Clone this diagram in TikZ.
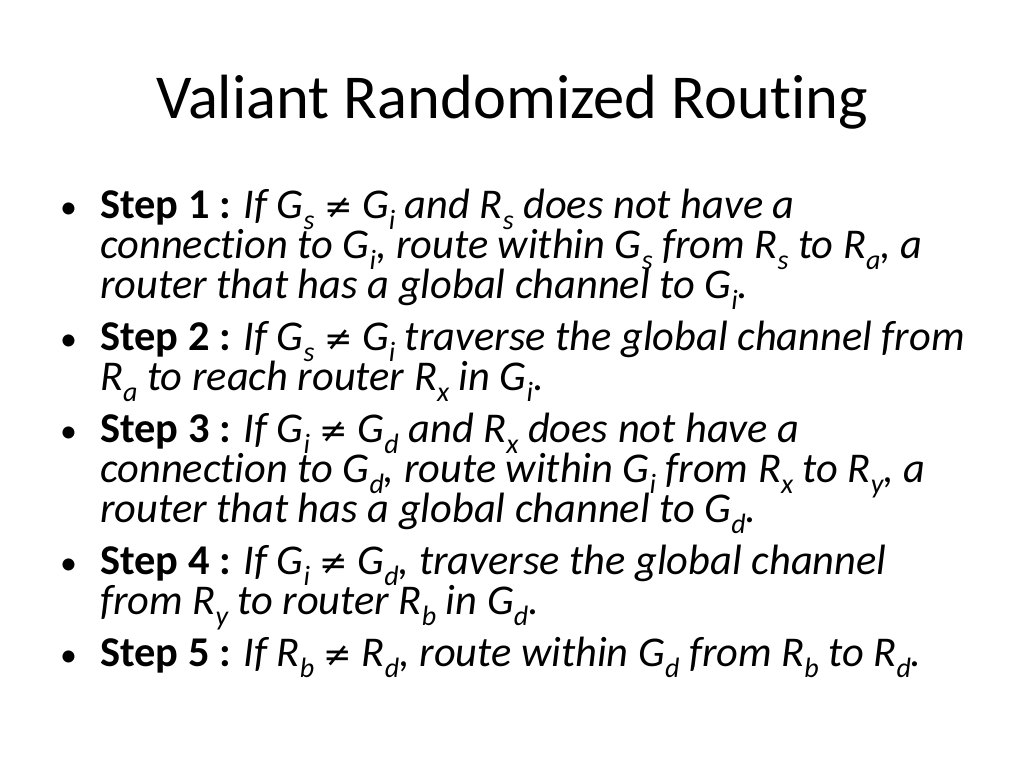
\documentclass[tikz,border=0pt]{standalone}
\usepackage{fontspec}
\setmainfont[Ligatures=NoCommon]{Carlito}
\newfontfamily\symfont{DejaVu Sans}
\newcommand{\lowsub}[1]{\raisebox{-0.28em}{\fontsize{28}{28}\selectfont #1}}
\newcommand{\neqs}{{\upshape\symfont\fontsize{34}{34}\selectfont ≠}}
\begin{document}
\begin{tikzpicture}[x=1pt,y=1pt,
  ln/.style={anchor=base west,inner sep=0pt,font=\fontsize{42.4}{42}\selectfont},
  bul/.style={anchor=base west,inner sep=0pt,font=\fontsize{34}{34}\selectfont}]
\let\sb\lowsub
\useasboundingbox[fill=white] (0,0) rectangle (1024,-768);
\node[anchor=base,inner sep=0pt,font=\fontsize{62.5}{62}\selectfont] (title) at (512,-118) {Valiant Randomized Routing};
\foreach \y/\n in {218/b1,350/b2,442/b3,574/b4,666/b5}{\node[bul] (\n) at (60,-\y) {•};}
\node[ln] (l1) at (100,-218) {\textbf{Step 1 :} \textit{If G\sb{s} \neqs{} G\sb{i} and R\sb{s} does not have a}};
\node[ln] (l2) at (100,-258) {\textit{connection to G\sb{i}, route within G\sb{s} from R\sb{s} to R\sb{a}, a}};
\node[ln] (l3) at (100,-298) {\textit{router that has a global channel to G\sb{i}.}};
\node[ln] (l4) at (100,-350) {\textbf{Step 2 :} \textit{If G\sb{s} \neqs{} G\sb{i} traverse the global channel from}};
\node[ln] (l5) at (100,-390) {\textit{R\sb{a} to reach router R\sb{x} in G\sb{i}.}};
\node[ln] (l6) at (100,-442) {\textbf{Step 3 :} \textit{If G\sb{i} \neqs{} G\sb{d} and R\sb{x} does not have a}};
\node[ln] (l7) at (100,-482) {\textit{connection to G\sb{d}, route within G\sb{i} from R\sb{x} to R\sb{y}, a}};
\node[ln] (l8) at (100,-522) {\textit{router that has a global channel to G\sb{d}.}};
\node[ln] (l9) at (100,-574) {\textbf{Step 4 :} \textit{If G\sb{i} \neqs{} G\sb{d}, traverse the global channel}};
\node[ln] (l10) at (100,-614) {\textit{from R\sb{y} to router R\sb{b} in G\sb{d}.}};
\node[ln] (l11) at (100,-666) {\textbf{Step 5 :} \textit{If R\sb{b} \neqs{} R\sb{d}, route within G\sb{d} from R\sb{b} to R\sb{d}.}};
\end{tikzpicture}
\end{document}
